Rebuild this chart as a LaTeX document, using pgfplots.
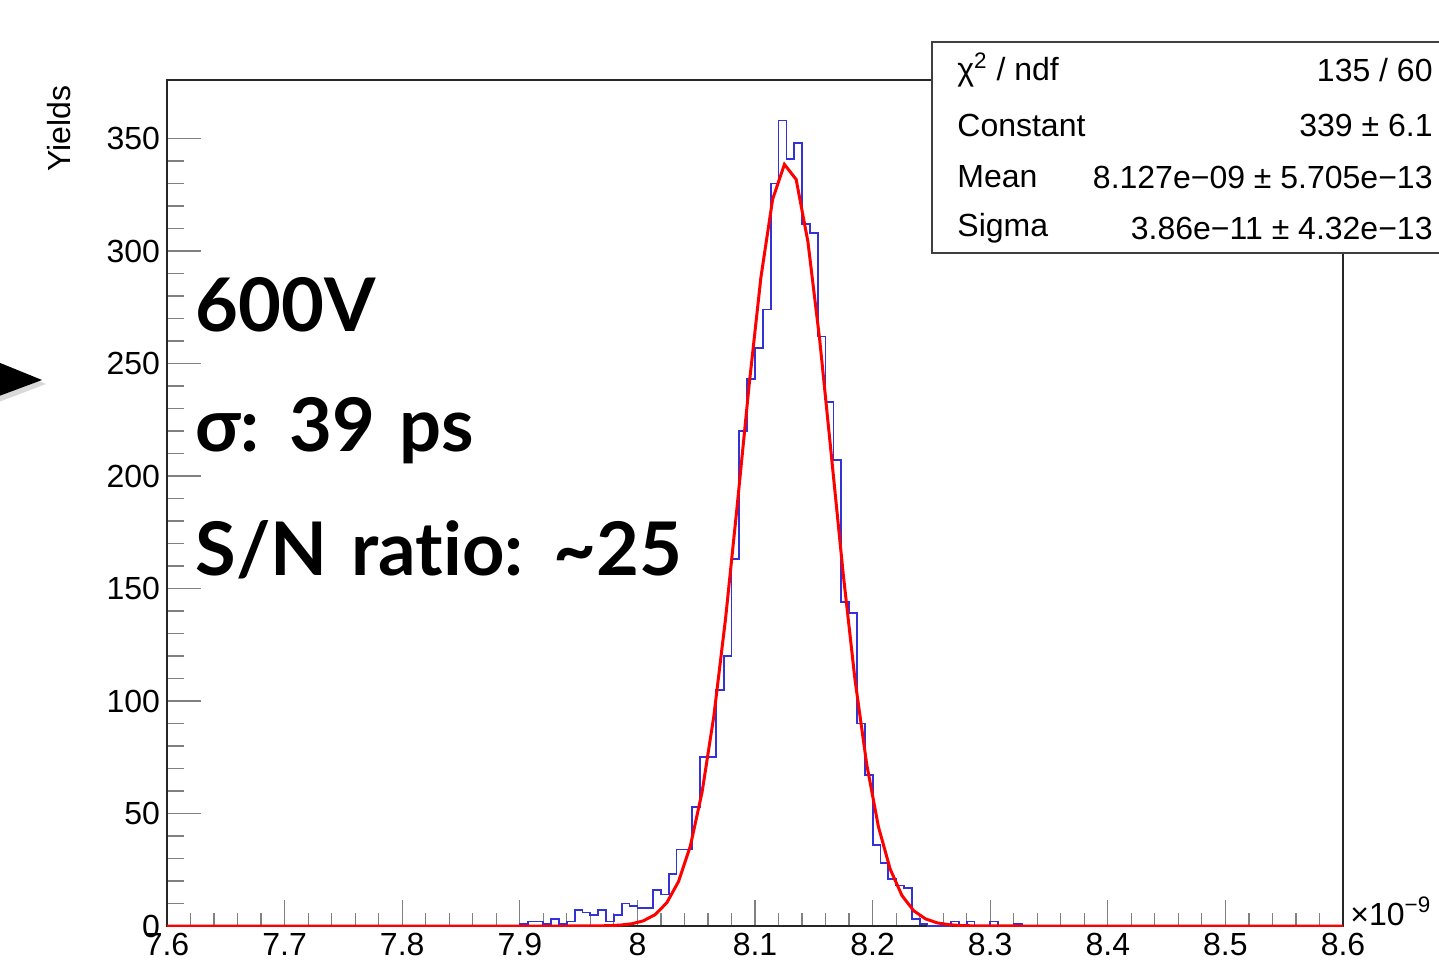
\documentclass[border=0pt]{standalone}
\usepackage{fontspec}
\setmainfont{Liberation Sans}
\newfontfamily\annot[Ligatures=CommonOff]{Lato}
\usepackage{pgfplots}
\pgfplotsset{compat=1.18}
\definecolor{histblue}{RGB}{50,50,215}
\begin{document}
\begin{tikzpicture}
\useasboundingbox (-83.5pt,-25pt) rectangle (636pt,463pt);
\begin{axis}[
  at={(0pt,0pt)}, anchor=south west,
  scale only axis, width=588pt, height=423pt,
  xmin=7.6, xmax=8.6, ymin=0, ymax=376,
  xtick={7.6,7.7,7.8,7.9,8.0,8.1,8.2,8.3,8.4,8.5,8.6},
  xticklabels={7.6,7.7,7.8,7.9,8,8.1,8.2,8.3,8.4,8.5,8.6},
  ytick={0,50,100,150,200,250,300,350},
  minor x tick num=4, minor y tick num=4,
  tick pos=left, tick align=inside,
  major x tick style={/pgfplots/major tick length=13pt, line width=0.6pt},
  minor x tick style={/pgfplots/minor tick length=6.5pt, line width=0.6pt},
  major y tick style={/pgfplots/major tick length=17pt, line width=0.6pt},
  minor y tick style={/pgfplots/minor tick length=8.5pt, line width=0.6pt},
  axis line style={line width=0.7pt, black!85},
  /pgf/number format/assume math mode=true,
  ticklabel style={font=\fontsize{16}{19}\selectfont},
  scaled ticks=false,
  clip=true,
]
\addplot[histblue, line width=0.9pt, const plot] coordinates {
(7.6,0) (7.8867,0) (7.8933,0) (7.9000,1) (7.9067,2) (7.9133,2) (7.9200,1) (7.9267,3)
(7.9333,1) (7.9400,2) (7.9467,7) (7.9533,6) (7.9600,5) (7.9667,7) (7.9733,2)
(7.9800,5) (7.9867,10) (7.9933,9) (8.0000,8) (8.0067,8) (8.0133,16) (8.0200,14)
(8.0267,23) (8.0333,34) (8.0400,34) (8.0467,53) (8.0533,75) (8.0600,75)
(8.0667,105) (8.0733,120) (8.0800,163) (8.0867,220) (8.0933,243) (8.1000,257)
(8.1067,274) (8.1133,330) (8.1200,358) (8.1267,341) (8.1333,348) (8.1400,312)
(8.1467,308) (8.1533,262) (8.1600,233) (8.1667,207) (8.1733,144) (8.1800,139)
(8.1867,90) (8.1933,67) (8.2000,36) (8.2067,28) (8.2133,21) (8.2200,18)
(8.2267,17) (8.2333,3) (8.2400,1) (8.2467,0) (8.2533,0) (8.2600,0) (8.2667,2)
(8.2733,0) (8.2800,2) (8.2867,0) (8.2933,0) (8.3000,2) (8.3067,0) (8.3133,0)
(8.3200,1) (8.3267,0) (8.6,0)
};
\addplot[red, line width=1.5pt] coordinates {
(7.6,0) (7.905,0) (7.935,0.001) (7.945,0.005) (7.955,0.017) (7.965,0.051)
(7.975,0.145) (7.985,0.39) (7.995,0.98) (8.005,2.29) (8.015,5.03) (8.025,10.33)
(8.035,19.8) (8.045,35.5) (8.055,59.5) (8.065,93.3) (8.075,136.8) (8.085,187.5)
(8.095,240.4) (8.105,288.2) (8.115,323.0) (8.125,338.5) (8.135,331.8)
(8.145,304.1) (8.155,260.6) (8.165,208.8) (8.175,156.5) (8.185,109.6)
(8.195,71.8) (8.205,44.0) (8.215,25.2) (8.225,13.5) (8.235,6.76) (8.245,3.17)
(8.255,1.39) (8.265,0.57) (8.275,0.22) (8.285,0.078) (8.295,0.026)
(8.305,0.008) (8.335,0) (8.6,0)
};
\end{axis}
% y axis title
\node[rotate=90, anchor=east, inner sep=0pt, font=\fontsize{16}{19}\selectfont] at (-54pt,420.5pt) {Yields};
% exponent
\node[anchor=base west, inner sep=0pt, font=\fontsize{16}{19}\selectfont] at (591.5pt,0.5pt) {×10\textsuperscript{−9}};
% stats box
\draw[fill=white, draw=black!75, line width=0.8pt] (382.5pt,336.5pt) rectangle (660pt,442pt);
\begin{scope}[every node/.style={inner sep=0pt, font=\fontsize{16}{19}\selectfont}]
\node[anchor=west] at (395pt,428pt) {χ\textsuperscript{2} / ndf};
\node[anchor=east] at (633pt,428pt) {135 / 60};
\node[anchor=west] at (395pt,400.5pt) {Constant};
\node[anchor=east] at (633pt,400.5pt) {339 ± 6.1};
\node[anchor=west] at (395pt,374.5pt) {Mean};
\node[anchor=east] at (633pt,374.5pt) {8.127e−09 ± 5.705e−13};
\node[anchor=west] at (395pt,349pt) {Sigma};
\node[anchor=east] at (633pt,349pt) {3.86e−11 ± 4.32e−13};
\end{scope}
% annotations
\begin{scope}[every node/.style={inner sep=0pt, anchor=base west, font=\annot\bfseries\fontsize{37}{44}\selectfont}]
\node at (14pt,297pt) {600V};
\node at (14pt,237pt) {σ:\hspace{3pt} 39\hspace{3pt} ps};
\node at (14pt,175.5pt) {S/N\hspace{3pt} ratio:\hspace{3pt} \textasciitilde25};
\end{scope}
% arrow head at left
\fill[black!15] (-92pt,259pt) -- (-92pt,284pt) -- (-60.5pt,271pt) -- cycle;
\fill[black] (-92pt,262pt) -- (-92pt,285pt) -- (-62.5pt,273pt) -- cycle;
\end{tikzpicture}
\end{document}
